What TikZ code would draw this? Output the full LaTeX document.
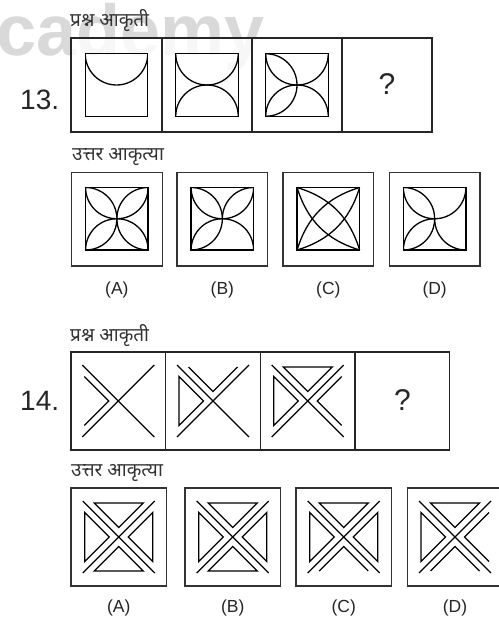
\documentclass[tikz,border=0pt]{standalone}
\usepackage{fontspec}
\setmainfont{Liberation Sans}
\newfontfamily\dev[Script=Devanagari]{Noto Sans}
\newfontfamily\wmfont{Liberation Sans}
% quarter arc: clip rect (#1,#2)-(#3,#4), circle centre #5
\newcommand\qa[5]{\begin{scope}\clip (#1,#2) rectangle (#3,#4); \draw[fig] #5 circle[radius=31.25pt];\end{scope}}
\newcommand\arcTL{\qa{0}{0}{31.25}{62.5}{(31.25,0)}}
\newcommand\arcTR{\qa{31.25}{0}{62.5}{62.5}{(31.25,0)}}
\newcommand\arcBL{\qa{0}{0}{31.25}{62.5}{(31.25,62.5)}}
\newcommand\arcBR{\qa{31.25}{0}{62.5}{62.5}{(31.25,62.5)}}
\newcommand\arcLT{\qa{0}{0}{62.5}{31.25}{(0,31.25)}}
\newcommand\arcLB{\qa{0}{31.25}{62.5}{62.5}{(0,31.25)}}
\newcommand\arcRT{\qa{0}{0}{62.5}{31.25}{(62.5,31.25)}}
\newcommand\arcRB{\qa{0}{31.25}{62.5}{62.5}{(62.5,31.25)}}
\newcommand\insq{\draw[fig] (0,0) rectangle (62.5,62.5);}
\newcommand\Xf{\draw[fig] (-36,-36) -- (36,36); \draw[fig] (36,-36) -- (-36,36);}
\newcommand\chev[1]{\draw[fig,rotate=#1] (-34,-24.5) -- (-9.5,0) -- (-34,24.5);}
\newcommand\tri[1]{\draw[fig,rotate=#1] (-34,-24.5) -- (-9.5,0) -- (-34,24.5) -- cycle;}
\begin{document}
\begin{tikzpicture}[x=1pt,y=-1pt,
  frame/.style={line width=1.4pt, draw=black!85},
  fig/.style={line width=1.3pt, draw=black, line join=miter},
  obox/.style={line width=1.2pt, draw=black!80},
  lbl/.style={font=\fontsize{17.5}{20}\selectfont, anchor=base, inner sep=0, text=black!85},
  num/.style={font=\fontsize{28}{32}\selectfont, anchor=base west, inner sep=0, text=black!85},
  qm/.style={font=\fontsize{30}{34}\selectfont, anchor=base, inner sep=0, text=black!85},
  head/.style={font=\dev\fontsize{19}{22}\selectfont, anchor=base west, inner sep=0, text=black!80},
]
\useasboundingbox (0,0) rectangle (498,617);
\fill[white] (0,0) rectangle (498,617);
% watermark
\node[anchor=base west, inner sep=0, text=black!15, font=\wmfont\bfseries\fontsize{72}{80}\selectfont] (wm) at (-4,56) {cademy};

% ===== Question 13 =====
\node[head] (h13) at (70,27) {प्रश्न आकृती};
\node[num] (n13) at (20,110) {13.};
\fill[white,opacity=0.8] (71,38) rectangle (432,132);
\draw[frame] (71,38) rectangle (432,132);
\draw[frame] (162,38) -- (162,132) (252,38) -- (252,132) (342,38) -- (342,132);
\node[qm] (q13) at (387,95) {?};
\begin{scope}[shift={(85.25,53.75)}]
  \arcTL\arcTR \insq
\end{scope}
\begin{scope}[shift={(175.75,53.75)}]
  \arcTL\arcTR\arcBL\arcBR \insq
\end{scope}
\begin{scope}[shift={(265.75,53.75)}]
  \arcTL\arcTR\arcBL\arcBR\arcLT\arcLB \insq
\end{scope}

\node[head] (a13) at (72,161) {उत्तर आकृत्या};
\foreach \x/\l in {71.5/A,177/B,283/C,389.3/D}{
  \draw[obox] (\x,172.5) rectangle ++(90.7,93.5);
  \node[lbl] at (\x+45.35,294) {(\l)};
}
\begin{scope}[shift={(85.6,187.5)}]
  \arcTL\arcTR\arcBL\arcBR\arcLT\arcLB\arcRT\arcRB \insq
\end{scope}
\begin{scope}[shift={(191.1,187.5)}]
  \arcTL\arcTR\arcBL\arcBR\arcLT\arcLB\arcRT \insq
\end{scope}
\begin{scope}[shift={(297.1,187.5)}]
  \draw[fig] (0,0) to[bend left=28] (62.5,62.5);
  \draw[fig] (0,0) to[bend right=28] (62.5,62.5);
  \draw[fig] (62.5,0) to[bend left=28] (0,62.5);
  \draw[fig] (62.5,0) to[bend right=28] (0,62.5);
  \insq
\end{scope}
\begin{scope}[shift={(403.4,187.5)}]
  \arcTL\arcLT\arcBL\arcLB\arcTR\arcRB \insq
\end{scope}

% ===== Question 14 =====
\node[head] (h14) at (70,341) {प्रश्न आकृती};
\node[num] (n14) at (20,410) {14.};
\draw[frame] (71,352) rectangle (449.7,450);
\draw[frame] (165.7,352) -- (165.7,450) (260.3,352) -- (260.3,450) (355,352) -- (355,450);
\node[qm] (q14) at (402.4,410) {?};
\begin{scope}[shift={(118.3,401)}]
  \Xf \chev{0}
\end{scope}
\begin{scope}[shift={(213,401)}]
  \Xf \tri{0} \chev{-90}
\end{scope}
\begin{scope}[shift={(307.7,401)}]
  \Xf \tri{0} \tri{-90} \chev{180}
\end{scope}

\node[head] (a14) at (71,476) {उत्तर आकृत्या};
\foreach \x/\l in {71/A,185/B,296/C,407.3/D}{
  \draw[obox] (\x,488) rectangle ++(95.5,98);
  \node[lbl] at (\x+47.75,612) {(\l)};
}
\begin{scope}[shift={(118.8,537)}]
  \Xf \tri{0} \tri{-90} \tri{180} \tri{90}
\end{scope}
\begin{scope}[shift={(232.7,537)}]
  \Xf \tri{0} \tri{-90} \tri{180} \tri{90}
\end{scope}
\begin{scope}[shift={(343.7,537)}]
  \Xf \tri{0} \tri{-90} \tri{180} \chev{90}
\end{scope}
\begin{scope}[shift={(455,537)}]
  \Xf \tri{0} \tri{-90} \chev{180} \chev{90}
\end{scope}
\end{tikzpicture}
\end{document}
